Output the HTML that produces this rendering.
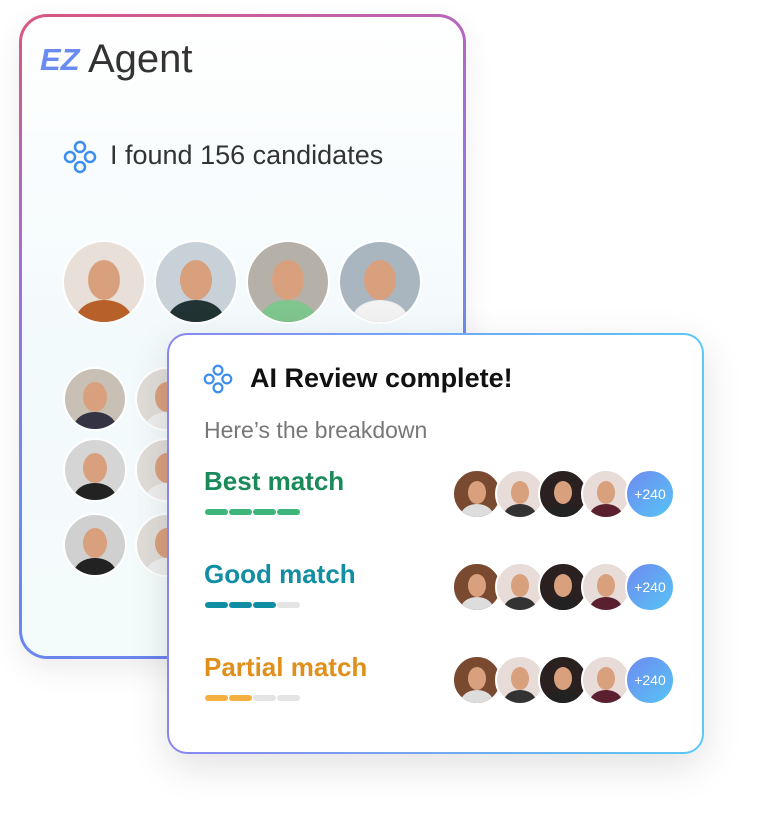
<!DOCTYPE html>
<html><head><style>
body{margin:0;width:761px;height:825px;background:#fff;position:relative;overflow:hidden;font-family:"Liberation Sans",sans-serif}
.c1{position:absolute;left:19px;top:14px;width:447px;height:645px;border-radius:28px;padding:3px;box-sizing:border-box;background:linear-gradient(160deg,#d9577e 0%,#a86bd8 30%,#6b8cf0 60%,#6a7ff0 100%);box-shadow:0 10px 30px rgba(0,0,0,.08)}
.c1 .in{width:100%;height:100%;border-radius:25px;background:linear-gradient(180deg,#fff 0%,#f3fafc 50%,#f4fbfb 100%)}
.c2{position:absolute;left:167px;top:333px;width:537px;height:421px;border-radius:20px;padding:2px;box-sizing:border-box;background:linear-gradient(90deg,#8a86f0,#5bc8f5);box-shadow:0 12px 40px rgba(0,0,0,.12)}
.c2 .in{width:100%;height:100%;border-radius:18px;background:#fff}
.av{position:absolute;border-radius:50%;overflow:hidden;border:2px solid #fff;box-sizing:border-box}
.av::before{content:"";position:absolute;left:30%;top:22%;width:40%;height:50%;border-radius:50%;background:#d9a07e}
.av::after{content:"";position:absolute;left:15%;top:72%;width:70%;height:50%;border-radius:50%;background:var(--s,#333)}
.t{position:absolute;white-space:nowrap}
.bar{position:absolute;height:6px;width:23px;border-radius:3px}
.plus{position:absolute;width:50px;height:50px;border-radius:50%;background:linear-gradient(135deg,#6f8af0,#56c4f5);color:#fff;font-size:14px;display:flex;align-items:center;justify-content:center;border:2px solid #fff;box-sizing:border-box}
</style></head><body>
<div class="c1"><div class="in"></div></div>
<div class="t" style="left:40px;top:42px;font-size:31px;font-weight:bold;font-style:italic;color:#6a8cf0">EZ</div>
<div class="t" style="left:88px;top:37px;font-size:40px;color:#333">Agent</div>
<svg style="position:absolute;left:63px;top:140px" width="34" height="34" viewBox="0 0 34 34" fill="none" stroke="#3b8ef0" stroke-width="2.5"><circle cx="17" cy="7" r="5"/><circle cx="17" cy="27" r="5"/><circle cx="7" cy="17" r="5"/><circle cx="27" cy="17" r="5"/></svg>
<div class="t" style="left:110px;top:140px;font-size:27px;color:#333">I found 156 candidates</div>
<div class="av" style="left:62px;top:240px;width:84px;height:84px;background:#e8e0d8;--s:#b8602a"></div>
<div class="av" style="left:154px;top:240px;width:84px;height:84px;background:#c9d1d8;--s:#233"></div>
<div class="av" style="left:246px;top:240px;width:84px;height:84px;background:#b5b0a8;--s:#7fc58e"></div>
<div class="av" style="left:338px;top:240px;width:84px;height:84px;background:#a9b6c0;--s:#f2f2f2"></div>
<div class="av" style="left:63px;top:367px;width:64px;height:64px;background:#c8bfb5;--s:#334"></div>
<div class="av" style="left:135px;top:367px;width:64px;height:64px;background:#e0dcd8;--s:#eee"></div>
<div class="av" style="left:63px;top:438px;width:64px;height:64px;background:#d5d5d5;--s:#222"></div>
<div class="av" style="left:135px;top:438px;width:64px;height:64px;background:#e0dcd8;--s:#eee"></div>
<div class="av" style="left:63px;top:513px;width:64px;height:64px;background:#d0d0d0;--s:#222"></div>
<div class="av" style="left:135px;top:513px;width:64px;height:64px;background:#e0dcd8;--s:#eee"></div>
<div class="c2"><div class="in"></div></div>
<svg style="position:absolute;left:203px;top:364px" width="30" height="30" viewBox="0 0 34 34" fill="none" stroke="#3b8ef0" stroke-width="2.5"><circle cx="17" cy="7" r="5"/><circle cx="17" cy="27" r="5"/><circle cx="7" cy="17" r="5"/><circle cx="27" cy="17" r="5"/></svg>
<div class="t" style="left:250px;top:363px;font-size:27px;font-weight:bold;color:#111">AI Review complete!</div>
<div class="t" style="left:204px;top:417px;font-size:23px;color:#777">Here’s the breakdown</div>
<div class="t" style="left:204px;top:466px;font-size:26px;font-weight:bold;color:#1a8a5a">Best match</div>
<div class="t" style="left:204px;top:559px;font-size:26px;font-weight:bold;color:#118ea3">Good match</div>
<div class="t" style="left:204px;top:652px;font-size:26px;font-weight:bold;color:#e0901a">Partial match</div>
<div class="bar" style="left:205px;top:509px;background:#3cb57a"></div><div class="bar" style="left:229px;top:509px;background:#3cb57a"></div><div class="bar" style="left:253px;top:509px;background:#3cb57a"></div><div class="bar" style="left:277px;top:509px;background:#3cb57a"></div>
<div class="bar" style="left:205px;top:602px;background:#118ea3"></div><div class="bar" style="left:229px;top:602px;background:#118ea3"></div><div class="bar" style="left:253px;top:602px;background:#118ea3"></div><div class="bar" style="left:277px;top:602px;background:#e4e4e4"></div>
<div class="bar" style="left:205px;top:695px;background:#f5b042"></div><div class="bar" style="left:229px;top:695px;background:#f5b042"></div><div class="bar" style="left:253px;top:695px;background:#e4e4e4"></div><div class="bar" style="left:277px;top:695px;background:#e4e4e4"></div>
<div class="av" style="left:452px;top:469px;width:50px;height:50px;background:#7a4a30;--s:#ddd"></div><div class="av" style="left:495px;top:469px;width:50px;height:50px;background:#e8dcd8;--s:#333"></div><div class="av" style="left:538px;top:469px;width:50px;height:50px;background:#2a2020;--s:#222"></div><div class="av" style="left:581px;top:469px;width:50px;height:50px;background:#e8dcd8;--s:#5a2030"></div><div class="plus" style="left:625px;top:469px">+240</div>
<div class="av" style="left:452px;top:562px;width:50px;height:50px;background:#7a4a30;--s:#ddd"></div><div class="av" style="left:495px;top:562px;width:50px;height:50px;background:#e8dcd8;--s:#333"></div><div class="av" style="left:538px;top:562px;width:50px;height:50px;background:#2a2020;--s:#222"></div><div class="av" style="left:581px;top:562px;width:50px;height:50px;background:#e8dcd8;--s:#5a2030"></div><div class="plus" style="left:625px;top:562px">+240</div>
<div class="av" style="left:452px;top:655px;width:50px;height:50px;background:#7a4a30;--s:#ddd"></div><div class="av" style="left:495px;top:655px;width:50px;height:50px;background:#e8dcd8;--s:#333"></div><div class="av" style="left:538px;top:655px;width:50px;height:50px;background:#2a2020;--s:#222"></div><div class="av" style="left:581px;top:655px;width:50px;height:50px;background:#e8dcd8;--s:#5a2030"></div><div class="plus" style="left:625px;top:655px">+240</div>
</body></html>
